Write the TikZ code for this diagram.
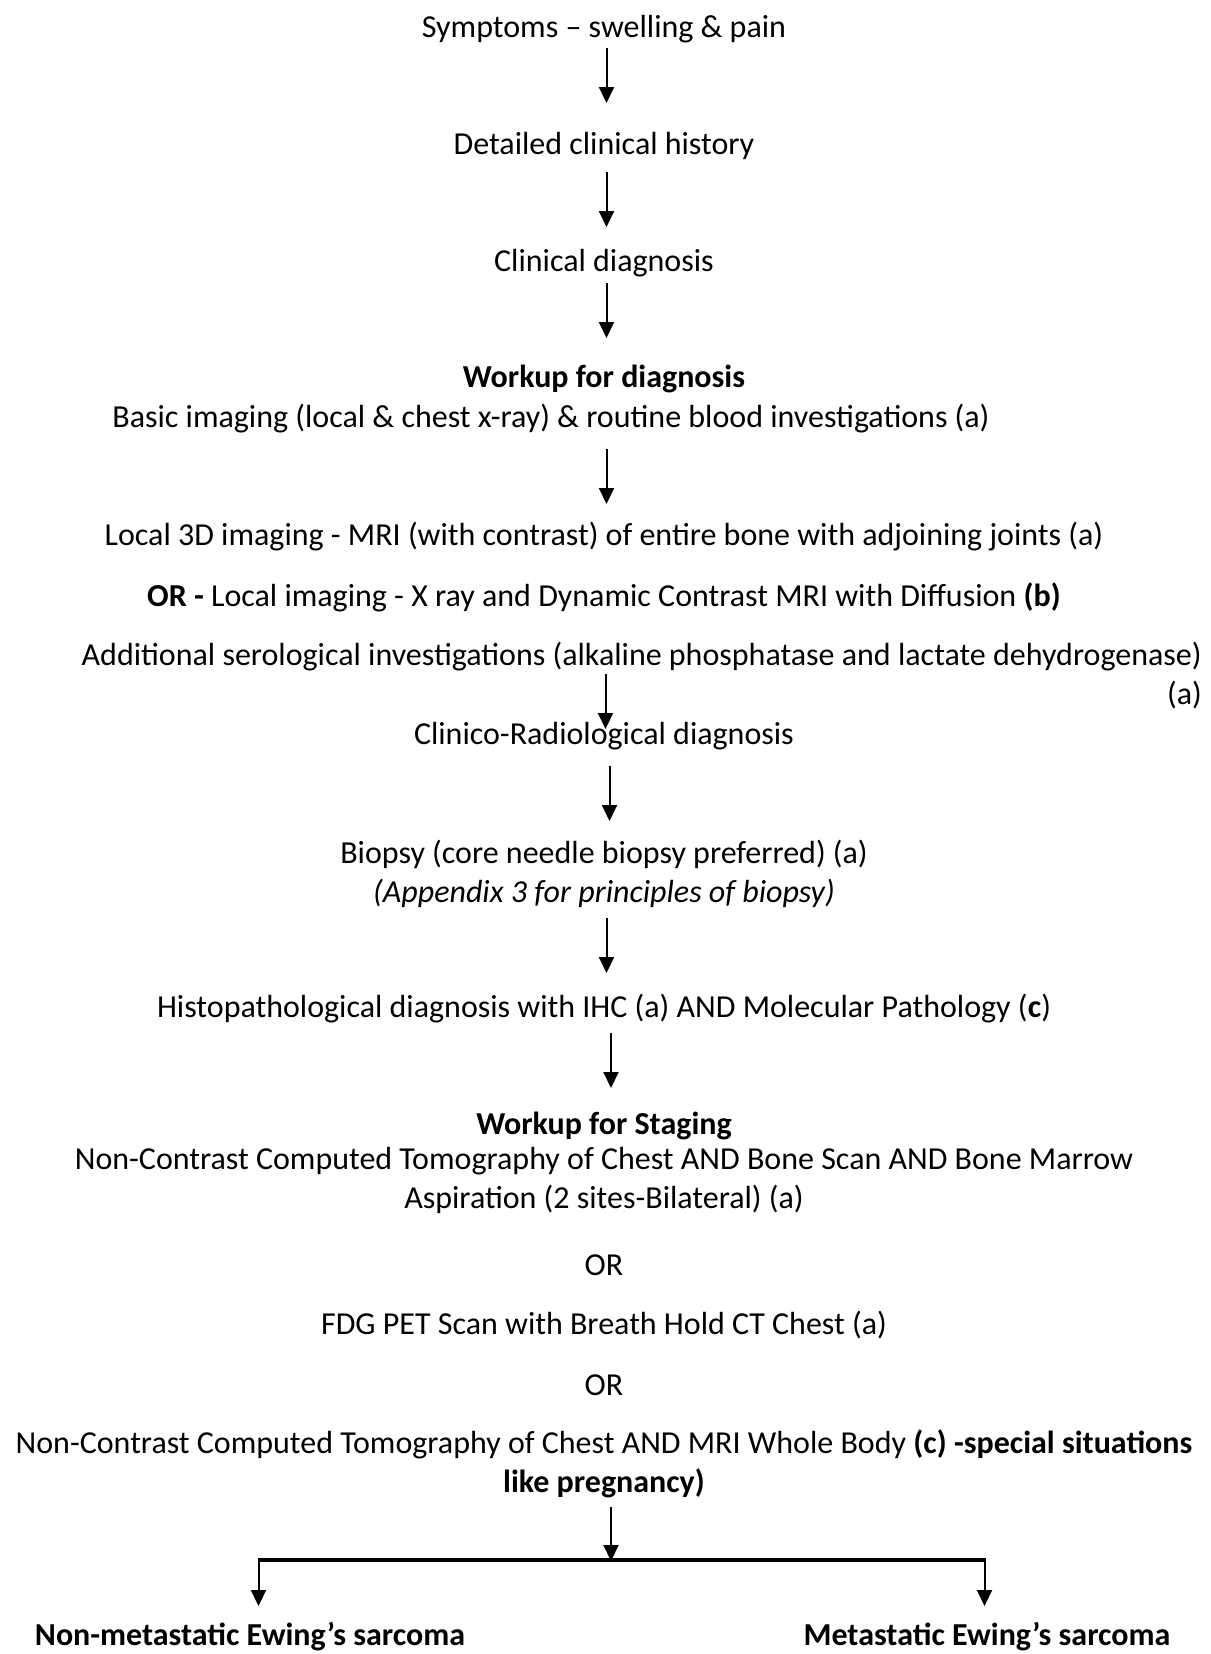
\documentclass[tikz,border=0pt]{standalone}
\usepackage{fontspec}
\setmainfont{Carlito}
\usetikzlibrary{arrows.meta}
\begin{document}
\begin{tikzpicture}[x=1pt,y=-1pt,
  txt/.style={inner sep=0pt,font=\fontsize{32}{39}\selectfont,align=center},
  arr/.style={line width=2pt,-{Triangle[length=16pt,width=15pt]}},
  bar/.style={line width=4pt}]
\useasboundingbox[fill=white] (0,0) rectangle (1210,1654);
\node[txt] (sym) at (604,29) {Symptoms – swelling \& pain};
\node[txt] (hist) at (604,146) {Detailed clinical history};
\node[txt] (cdx) at (604,263) {Clinical diagnosis};
\node[txt] (wd) at (604,379) {\bfseries Workup for diagnosis};
\node[txt] (basic) at (551,419) {Basic imaging (local \& chest x-ray) \& routine blood investigations (a)};
\node[txt] (loc3d) at (604,537) {Local 3D imaging - MRI (with contrast) of entire bone with adjoining joints (a)};
\node[txt] (orloc) at (604,597) {\textbf{OR -} Local imaging - X ray and Dynamic Contrast MRI with Diffusion \textbf{(b)}};
\node[txt,align=right,anchor=east] (sero) at (1202,676) {Additional serological investigations (alkaline phosphatase and lactate dehydrogenase)\\(a)};
\node[txt] (crd) at (604,736) {Clinico-Radiological diagnosis};
\node[txt] (bio) at (604,874) {Biopsy (core needle biopsy preferred) (a)\\\itshape(Appendix 3 for principles of biopsy)};
\node[txt] (histo) at (604,1009) {Histopathological diagnosis with IHC (a) AND Molecular Pathology (\textbf{c})};
\node[txt] (ws) at (604,1126) {\bfseries Workup for Staging};
\node[txt] (nc1) at (604,1180) {Non-Contrast Computed Tomography of Chest AND Bone Scan AND Bone Marrow\\Aspiration (2 sites-Bilateral) (a)};
\node[txt] (or1) at (604,1265) {OR};
\node[txt] (fdg) at (604,1325) {FDG PET Scan with Breath Hold CT Chest (a)};
\node[txt] (or2) at (604,1385) {OR};
\node[txt] (nc2) at (604,1464) {Non-Contrast Computed Tomography of Chest AND MRI Whole Body \textbf{(c) -special situations}\\\textbf{like pregnancy)}};
\node[txt] (nm) at (250,1637) {\bfseries Non-metastatic Ewing’s sarcoma};
\node[txt] (met) at (987,1637) {\bfseries Metastatic Ewing’s sarcoma};
% arrow end points
\coordinate (a1s) at (606.5,48);  \coordinate (a1e) at (606.5,103);
\coordinate (a2s) at (606.5,172); \coordinate (a2e) at (606.5,227);
\coordinate (a3s) at (606.5,283); \coordinate (a3e) at (606.5,338);
\coordinate (a4s) at (606.5,449); \coordinate (a4e) at (606.5,504);
\coordinate (a5s) at (605.5,674); \coordinate (a5e) at (605.5,729);
\coordinate (a6s) at (609.5,766); \coordinate (a6e) at (609.5,821);
\coordinate (a7s) at (606.5,918); \coordinate (a7e) at (606.5,973);
\coordinate (a8s) at (611,1033); \coordinate (a8e) at (611,1088);
\coordinate (a9s) at (611,1507); \coordinate (j) at (611,1561);
\coordinate (bl) at (258.5,1560); \coordinate (br) at (984.5,1560);
\coordinate (ble) at (258.5,1606); \coordinate (bre) at (984.5,1606);
\draw[arr] (a1s) -- (a1e);
\draw[arr] (a2s) -- (a2e);
\draw[arr] (a3s) -- (a3e);
\draw[arr] (a4s) -- (a4e);
\draw[arr] (a5s) -- (a5e);
\draw[arr] (a6s) -- (a6e);
\draw[arr] (a7s) -- (a7e);
\draw[arr] (a8s) -- (a8e);
\draw[arr] (a9s) -- (j);
\draw[bar] ([xshift=-1pt]bl) -- ([xshift=1pt]br);
\draw[arr] (bl) -- (ble);
\draw[arr] (br) -- (bre);
\end{tikzpicture}
\end{document}
